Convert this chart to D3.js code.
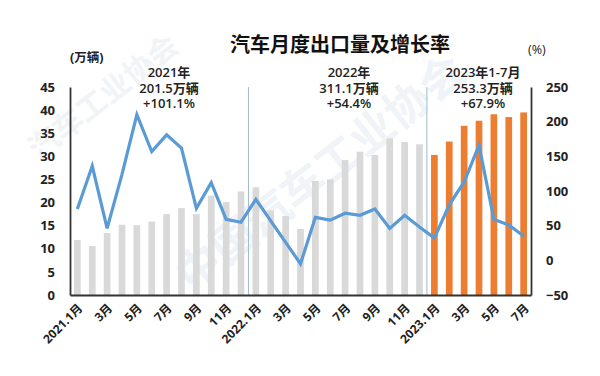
<!DOCTYPE html>
<html>
<head>
<meta charset="utf-8">
<script src="https://cdn.jsdelivr.net/npm/d3@7"></script>
<style>
  body { margin: 0; background: #fff; }
  text { font-family: "Open Sans", "Noto Sans CJK SC", sans-serif; }
</style>
</head>
<body>
<div id="chart"></div>
<script>
// month categories 2021.1 - 2023.7
const months = [
  "2021.1月","2月","3月","4月","5月","6月","7月","8月","9月","10月","11月","12月",
  "2022.1月","2月","3月","4月","5月","6月","7月","8月","9月","10月","11月","12月",
  "2023.1月","2月","3月","4月","5月","6月","7月"
];
// exports, 10k vehicles
const exportsVol = [
  11.9, 10.6, 13.4, 15.2, 15.1, 15.9, 17.5, 18.8, 17.5, 21.5, 20.1, 22.4,
  23.3, 18.3, 17.1, 14.3, 24.7, 25.0, 29.2, 31.0, 30.3, 33.9, 33.1, 32.6,
  30.3, 33.2, 36.6, 37.7, 39.1, 38.5, 39.5
];
// year-on-year growth, %
const growth = [
  74, 136, 46, 124, 210, 157, 181, 162, 75, 112, 59, 55,
  88, 57, 26, -5, 62, 58, 68, 65, 74, 46, 65, 48,
  32, 80, 113, 166, 59, 51, 35
];
const leftTicks = [0, 5, 10, 15, 20, 25, 30, 35, 40, 45];
const rightTicks = [-50, 0, 50, 100, 150, 200, 250];
const yearNotes = [
  {lines: ["2021年", "201.5万辆", "+101.1%"], x: 169},
  {lines: ["2022年", "311.1万辆", "+54.4%"], x: 349},
  {lines: ["2023年1-7月", "253.3万辆", "+67.9%"], x: 483}
];

const W = 600, H = 376;
const mLeft = 70, mRight = 531, mTop = 87, mBottom = 295;

const svg = d3.select("#chart").append("svg")
    .attr("width", W).attr("height", H);

// faint watermark
svg.append("text")
    .attr("transform", "translate(330,185) rotate(-38)")
    .attr("text-anchor", "middle")
    .style("font-size", "44px").style("font-weight", "bold")
    .style("fill", "#f0f3f7")
    .text("中国汽车工业协会");
svg.append("text")
    .attr("transform", "translate(110,105) rotate(-38)")
    .attr("text-anchor", "middle")
    .style("font-size", "30px").style("font-weight", "bold")
    .style("fill", "#f1f4f7")
    .text("汽车工业协会");

var idx = months.map((d, i) => i);
var x = d3.scaleBand()
    .domain(idx)
    .range([mLeft, mRight])
    .paddingInner(0.55).paddingOuter(0.27);
var yL = d3.scaleLinear().domain([0, 45]).range([mBottom, mTop]);
var yR = d3.scaleLinear().domain([-50, 250]).range([mBottom, mTop]);

// year separators
[12, 24].forEach(function(i) {
    var sx = mLeft + (mRight - mLeft) * i / months.length;
    svg.append("line")
        .attr("x1", sx).attr("x2", sx)
        .attr("y1", mTop).attr("y2", mBottom)
        .style("stroke", "#9fb8d0").style("stroke-width", 1);
});

// bars
svg.append("g").selectAll("rect")
    .data(exportsVol)
    .enter().append("rect")
    .attr("x", (d, i) => x(i))
    .attr("width", x.bandwidth())
    .attr("y", d => yL(d))
    .attr("height", d => yL(0) - yL(d))
    .style("fill", (d, i) => i >= 24 ? "#ed7d31" : "#d9d9d9");

// growth line
var line = d3.line()
    .x((d, i) => x(i) + x.bandwidth() / 2)
    .y(d => yR(d));
svg.append("path")
    .datum(growth)
    .attr("d", line)
    .style("fill", "none")
    .style("stroke", "#5b9bd5")
    .style("stroke-width", 3.2)
    .style("stroke-linejoin", "miter");

// axes
var axL = svg.append("g")
    .attr("transform", "translate(" + mLeft + ",0)")
    .call(d3.axisLeft(yL).tickValues(leftTicks).tickSize(0).tickPadding(15));
var axR = svg.append("g")
    .attr("transform", "translate(" + mRight + ",0)")
    .call(d3.axisRight(yR).tickValues(rightTicks).tickSize(0).tickPadding(15));
var axB = svg.append("g")
    .attr("transform", "translate(0," + mBottom + ")")
    .call(d3.axisBottom(x).tickSize(0)
        .tickFormat(i => (i % 2 === 0 ? months[i] : "")));

[axL, axR, axB].forEach(function(g) {
    g.select(".domain").style("stroke", "#333").style("stroke-width", 1.8);
    g.selectAll("text")
        .style("font-size", "13px").style("font-weight", "bold")
        .style("fill", "#222");
});
axB.selectAll("text")
    .style("font-size", "12px")
    .attr("text-anchor", "end")
    .attr("dy", null)
    .attr("y", 0)
    .attr("transform", "translate(6,14) rotate(-45)");

// titles
svg.append("text")
    .attr("x", 340).attr("y", 52)
    .attr("text-anchor", "middle")
    .style("font-size", "20px").style("font-weight", "bold")
    .style("fill", "#111")
    .text("汽车月度出口量及增长率");
svg.append("text")
    .attr("x", 70).attr("y", 62)
    .style("font-size", "12.5px").style("font-weight", "bold")
    .style("fill", "#222")
    .text("(万辆)");
svg.append("text")
    .attr("x", 528).attr("y", 54)
    .style("font-size", "12.5px")
    .style("fill", "#222")
    .text("(%)");

// yearly notes, one text block each
yearNotes.forEach(function(n) {
    var t = svg.append("text")
        .attr("x", n.x).attr("y", 77)
        .attr("text-anchor", "middle")
        .style("font-size", "13px").style("font-weight", "600")
        .style("fill", "#222");
    n.lines.forEach(function(s, k) {
        t.append("tspan")
            .attr("x", n.x)
            .attr("dy", k === 0 ? 0 : 15.5)
            .text(s);
    });
});
</script>
</body>
</html>
